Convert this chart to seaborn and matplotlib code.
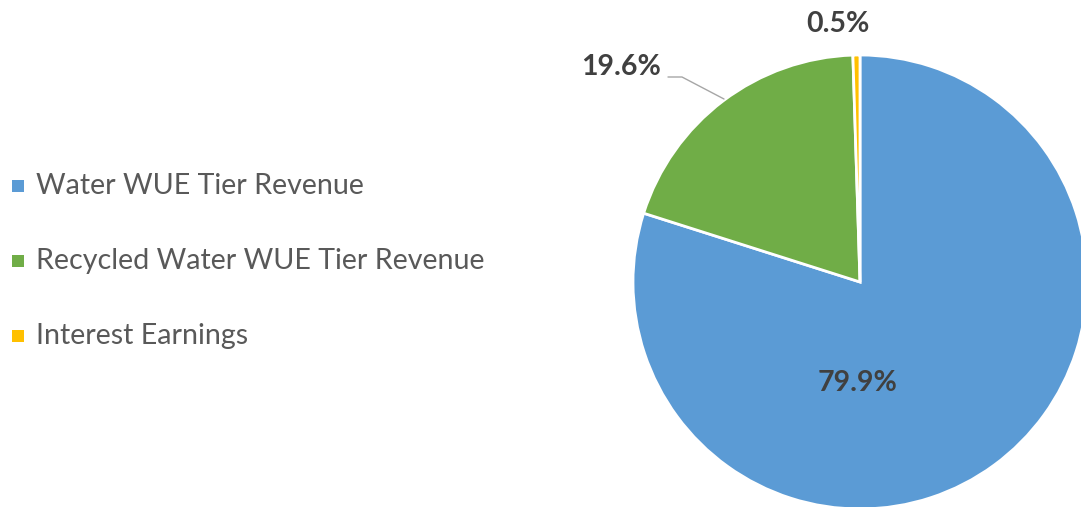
import matplotlib
matplotlib.use("Agg")
import matplotlib.pyplot as plt
import seaborn as sns
from matplotlib.patches import Rectangle

categories = ["Water WUE Tier Revenue", "Recycled Water WUE Tier Revenue", "Interest Earnings"]
values = [79.9, 19.6, 0.5]
labels = ["79.9%", "19.6%", "0.5%"]
colors = ["#5B9BD5", "#70AD47", "#FFC000"]

sns.set_theme(style="white")
plt.rcParams["font.family"] = ["Lato", "DejaVu Sans"]

W, H = 1081, 507
fig = plt.figure(figsize=(W / 100, H / 100), dpi=100)
ax = fig.add_axes([0, 0, 1, 1])

cx, cy, r = 860, H - 282, 227
ax.pie(values, colors=colors, startangle=90, counterclock=False,
       center=(cx, cy), radius=r,
       wedgeprops=dict(edgecolor="white", linewidth=2))
ax.set_xlim(0, W)
ax.set_ylim(0, H)
ax.set_aspect("equal")
ax.axis("off")

label_color = "#404040"
ax.text(858, H - 383, labels[0], ha="center", va="center", fontsize=20.5,
        fontweight="bold", color=label_color)
ax.text(621, H - 67, labels[1], ha="center", va="center", fontsize=20.5,
        fontweight="bold", color=label_color)
ax.text(838, H - 24, labels[2], ha="center", va="center", fontsize=20.5,
        fontweight="bold", color=label_color)
ax.plot([668, 682, 724], [H - 77, H - 77, H - 99], color="#A6A6A6", lw=1)

# legend
for i, (cat, col) in enumerate(zip(categories, colors)):
    y = H - (186 + 75 * i)
    ax.add_patch(Rectangle((12, y - 6), 12, 12, color=col, lw=0))
    ax.text(36, y, cat, ha="left", va="center", fontsize=20.6, color="#595959")

fig.savefig("out.png", dpi=100)
